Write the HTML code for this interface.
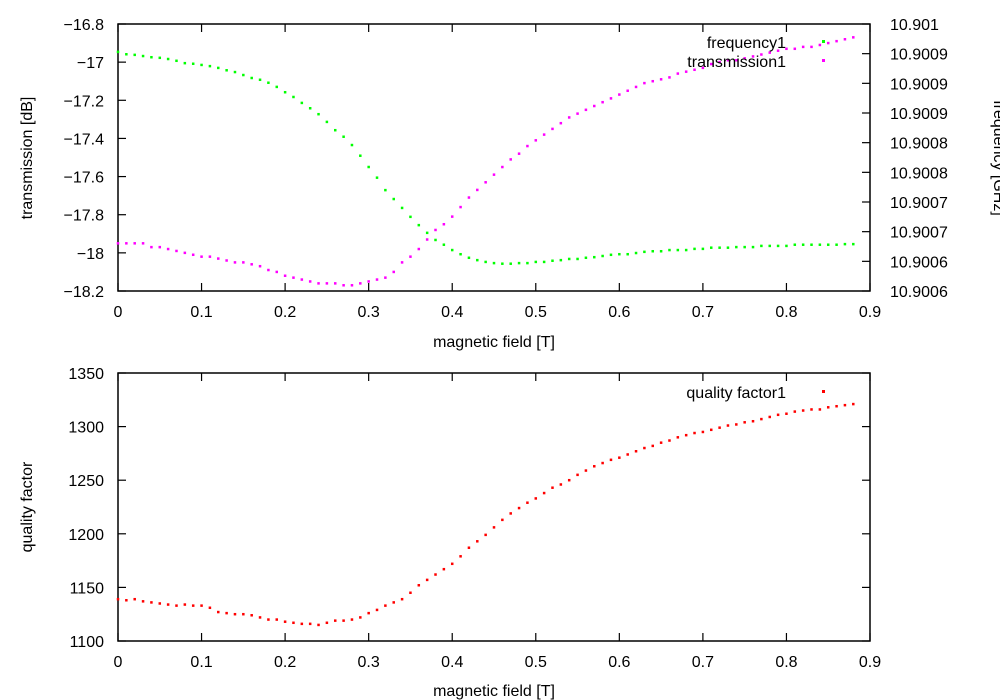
<!DOCTYPE html>
<html><head><meta charset="utf-8"><style>
body{margin:0;background:#fff;}
svg{display:block;font-family:"Liberation Sans",sans-serif;font-size:16px;}
</style></head><body>
<svg id="chart" width="1000" height="700" viewBox="0 0 1000 700"></svg>
<script>
const field=[0,0.01,0.02,0.03,0.04,0.05,0.06,0.07,0.08,0.09,0.1,0.11,0.12,0.13,0.14,0.15,0.16,0.17,0.18,0.19,0.2,0.21,0.22,0.23,0.24,0.25,0.26,0.27,0.28,0.29,0.3,0.31,0.32,0.33,0.34,0.35,0.36,0.37,0.38,0.39,0.4,0.41,0.42,0.43,0.44,0.45,0.46,0.47,0.48,0.49,0.5,0.51,0.52,0.53,0.54,0.55,0.56,0.57,0.58,0.59,0.6,0.61,0.62,0.63,0.64,0.65,0.66,0.67,0.68,0.69,0.7,0.71,0.72,0.73,0.74,0.75,0.76,0.77,0.78,0.79,0.8,0.81,0.82,0.83,0.84,0.85,0.86,0.87,0.88];
const transmission=[-17.95,-17.95,-17.95,-17.95,-17.97,-17.97,-17.98,-17.99,-18.00,-18.01,-18.02,-18.02,-18.03,-18.04,-18.05,-18.05,-18.06,-18.07,-18.09,-18.10,-18.12,-18.13,-18.14,-18.15,-18.16,-18.16,-18.16,-18.17,-18.17,-18.16,-18.15,-18.14,-18.13,-18.10,-18.05,-18.02,-17.98,-17.93,-17.88,-17.85,-17.81,-17.76,-17.71,-17.67,-17.63,-17.59,-17.55,-17.51,-17.48,-17.44,-17.41,-17.38,-17.35,-17.32,-17.29,-17.27,-17.25,-17.23,-17.21,-17.19,-17.17,-17.15,-17.13,-17.11,-17.10,-17.09,-17.08,-17.06,-17.05,-17.04,-17.03,-17.01,-17.00,-16.99,-16.99,-16.98,-16.97,-16.96,-16.95,-16.94,-16.93,-16.93,-16.92,-16.92,-16.91,-16.90,-16.89,-16.88,-16.87];
const frequency=[10.900953,10.900949,10.900948,10.900946,10.900944,10.900943,10.900941,10.900938,10.900934,10.900933,10.900931,10.900929,10.900926,10.900922,10.900919,10.900914,10.900909,10.900906,10.900901,10.900894,10.900885,10.900877,10.900867,10.900858,10.900848,10.900835,10.900821,10.900810,10.900796,10.900778,10.900759,10.900741,10.900720,10.900705,10.900690,10.900675,10.900661,10.900648,10.900636,10.900628,10.900619,10.900612,10.900606,10.900602,10.900599,10.900597,10.900596,10.900596,10.900597,10.900597,10.900599,10.900599,10.900601,10.900602,10.900604,10.900604,10.900606,10.900607,10.900609,10.900611,10.900612,10.900612,10.900614,10.900616,10.900617,10.900617,10.900619,10.900619,10.900619,10.900621,10.900621,10.900623,10.900623,10.900623,10.900624,10.900624,10.900624,10.900626,10.900626,10.900626,10.900626,10.900628,10.900628,10.900628,10.900628,10.900628,10.900628,10.900629,10.900629];
const quality=[1139,1138,1139,1137,1136,1135,1134,1133,1134,1133,1133,1131,1127,1126,1125,1125,1124,1122,1120,1120,1118,1117,1116,1116,1115,1117,1119,1119,1120,1122,1126,1129,1133,1136,1139,1145,1152,1157,1162,1167,1172,1179,1187,1193,1199,1206,1213,1219,1224,1229,1233,1238,1243,1246,1250,1255,1259,1263,1266,1269,1271,1274,1277,1280,1282,1285,1287,1290,1292,1294,1295,1297,1299,1301,1302,1304,1305,1307,1309,1311,1312,1314,1315,1316,1316,1318,1319,1320,1321];
const xTicks=["0","0.1","0.2","0.3","0.4","0.5","0.6","0.7","0.8","0.9"];
const yTopTicks=["\u221216.8","\u221217","\u221217.2","\u221217.4","\u221217.6","\u221217.8","\u221218","\u221218.2"];
const y2Ticks=["10.901","10.9009","10.9009","10.9009","10.9008","10.9008","10.9007","10.9007","10.9006","10.9006"];
const yBotTicks=["1350","1300","1250","1200","1150","1100"];

const NS="http://www.w3.org/2000/svg";
const svg=document.getElementById('chart');
function mk(tag,attrs,parent){const e=document.createElementNS(NS,tag);for(const k in attrs)e.setAttribute(k,attrs[k]);(parent||svg).appendChild(e);return e;}
const L=118,R=870;
const xs=v=>L+(v/0.9)*(R-L);
const T1=24,B1=291,T2=373,B2=641;
const yTop=v=>T1+(-16.8-v)/1.4*(B1-T1);
const yFreq=v=>T1+(10.901-v)/0.00045*(B1-T1);
const yQ=v=>T2+(1350-v)/250*(B2-T2);
function txt(s,x,y,anchor,name,g){const t=mk('text',{x:x,y:y,'text-anchor':anchor},g);t.textContent=s;


return t;}
function frame(top,bot,name){
 const g=mk('g',{});
 
 
 mk('rect',{x:L,y:top,width:R-L,height:bot-top,fill:'none',stroke:'#000','stroke-width':1.5},g);
 xTicks.forEach((s,i)=>{const x=xs(i*0.1);
  mk('line',{x1:x,y1:bot,x2:x,y2:bot-8,stroke:'#000','stroke-width':1.2},g);
  mk('line',{x1:x,y1:top,x2:x,y2:top+8,stroke:'#000','stroke-width':1.2},g);
  txt(s,x,bot+26,'middle','x-tick-label',g);});
 return g;
}
const g1=frame(T1,B1,'top-plot-frame');
yTopTicks.forEach((s,i)=>{const y=yTop(-16.8-0.2*i);
 mk('line',{x1:L,y1:y,x2:L+8,y2:y,stroke:'#000','stroke-width':1.2},g1);
 txt(s,104,y+6,'end','y-tick-label',g1);});
y2Ticks.forEach((s,i)=>{const y=yFreq(10.901-0.00005*i);
 mk('line',{x1:R,y1:y,x2:R-8,y2:y,stroke:'#000','stroke-width':1.2},g1);
 txt(s,890,y+6,'start','y2-tick-label',g1);});
const yt1=txt('transmission [dB]',0,0,'middle','y-axis-title',g1);yt1.setAttribute('transform','translate(32,158) rotate(-90)');
const yt2=txt('frequency [GHz]',0,0,'middle','y2-axis-title',g1);yt2.setAttribute('transform','translate(994,158) rotate(90)');
txt('magnetic field [T]',494,347,'middle','x-axis-title',g1);
function pts(arr,yf,color,name){const g=mk('g',{fill:color});
 
 
 arr.forEach((v,i)=>{const r=mk('rect',{x:xs(field[i])-1.25,y:yf(v)-1.25,width:2.5,height:2.5},g);
  
  });}
pts(frequency,yFreq,'#00ff00','frequency-series');
pts(transmission,yTop,'#ff00ff','transmission-series');
const lg=mk('g',{});


txt('frequency1',786,48,'end','legend-frequency',lg);
mk('rect',{x:822,y:40,width:3,height:3,fill:'#00ff00'},lg);
txt('transmission1',786,67,'end','legend-transmission',lg);
mk('rect',{x:822,y:59,width:3,height:3,fill:'#ff00ff'},lg);
const g2=frame(T2,B2,'bottom-plot-frame');
yBotTicks.forEach((s,i)=>{const y=yQ(1350-50*i);
 mk('line',{x1:L,y1:y,x2:L+8,y2:y,stroke:'#000','stroke-width':1.2},g2);
 mk('line',{x1:R,y1:y,x2:R-8,y2:y,stroke:'#000','stroke-width':1.2},g2);
 txt(s,104,y+6,'end','y-tick-label',g2);});
const yt3=txt('quality factor',0,0,'middle','quality-axis-title',g2);yt3.setAttribute('transform','translate(32,507) rotate(-90)');
txt('magnetic field [T]',494,696,'middle','x-axis-title-bottom',g2);
pts(quality,yQ,'#ff0000','quality-series');
const lg2=mk('g',{});


txt('quality factor1',786,398,'end','legend-quality',lg2);
mk('rect',{x:822,y:390,width:3,height:3,fill:'#ff0000'},lg2);
</script>
</body></html>
